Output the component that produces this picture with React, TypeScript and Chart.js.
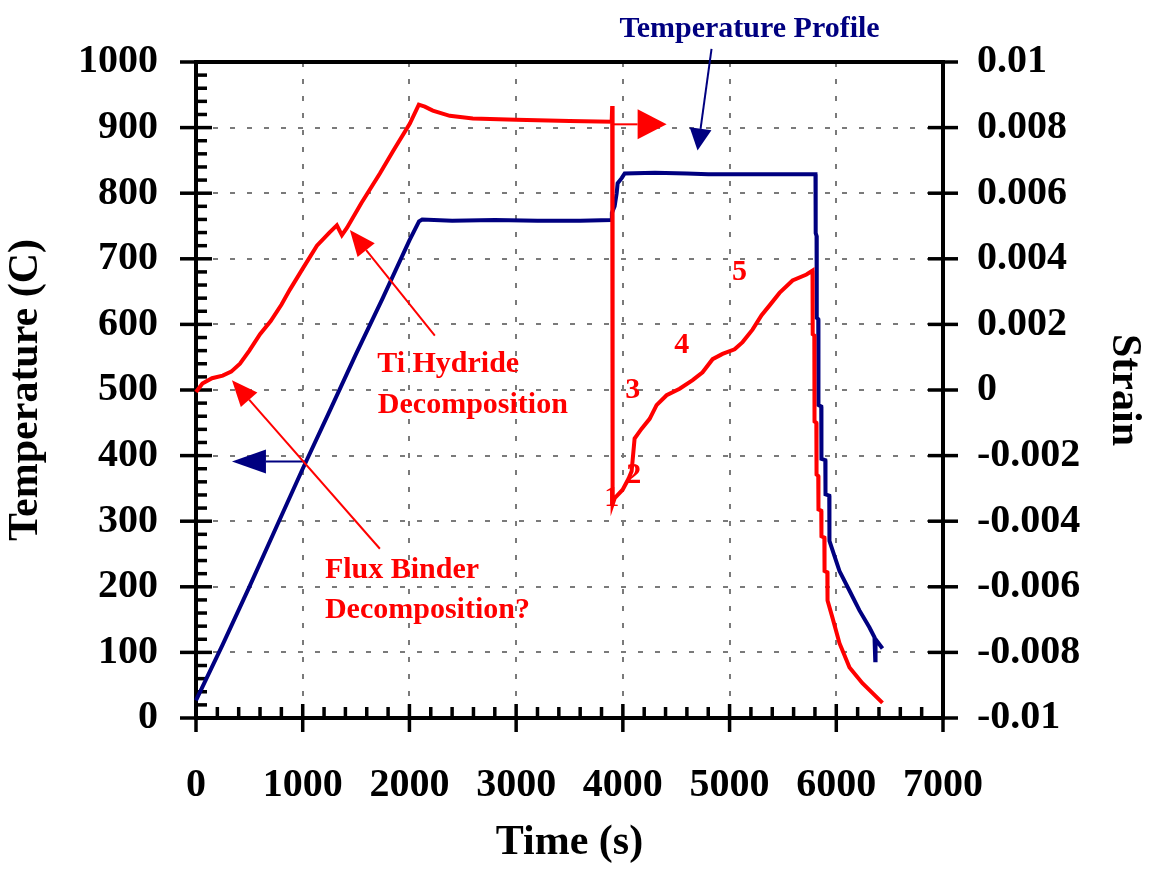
import React, { useEffect, useRef } from "react";
import { Chart, registerables } from "chart.js";

Chart.register(...registerables);

const FONT = "'Liberation Serif', 'Times New Roman', serif";
const RED = "#ff0000";
const NAVY = "#000080";

// Temperature profile (left axis, °C)
const tempTime = [
  0, 250, 500, 750, 1000, 1250, 1500, 1750, 2000, 2090, 2120, 2400, 2800, 3200, 3600, 3895,
  3897, 3923, 3942, 3951, 3989, 4017, 4300, 4600, 4800, 5200, 5600, 5805,
  5807, 5815, 5817, 5831, 5833, 5859, 5861, 5897, 5899, 5934, 5936, 6030, 6124, 6217, 6311,
  6358, 6365, 6368, 6433,
];
const tempValue = [
  27, 112, 200, 290, 380, 467, 555, 640, 728, 757, 760, 758, 759, 758, 758, 759,
  770, 780, 800, 815, 823, 830, 831, 830, 829, 829, 829, 829,
  739, 735, 610, 608, 477, 475, 395, 393, 341, 339, 270, 224, 194, 164, 138,
  123, 88, 120, 106,
];

// Strain (right axis)
const strainTime = [
  0, 60, 150, 250, 330, 412, 500, 600, 700, 800, 880, 1000, 1133, 1250, 1320, 1367, 1414,
  1550, 1723, 1850, 2004, 2088, 2144, 2219, 2378, 2594, 3000, 3500, 3895, 3900, 3904,
  3923, 3998, 4054, 4082, 4110, 4176, 4251, 4316, 4410, 4532, 4654, 4747, 4841, 4934,
  5047, 5122, 5215, 5300, 5375, 5468, 5590, 5721, 5777,
  5779, 5794, 5796, 5813, 5815, 5831, 5833, 5859, 5861, 5888, 5890, 5916, 5918, 5964,
  6030, 6124, 6245, 6433,
];
const strainValue = [
  -0.00006, 0.0002, 0.00036, 0.00044, 0.00056, 0.0008, 0.0012, 0.0017, 0.0021, 0.0026,
  0.00306, 0.0037, 0.0044, 0.0048, 0.00502, 0.00472, 0.00494,
  0.0057, 0.0066, 0.0073, 0.00812, 0.0087, 0.00864, 0.00852, 0.00836, 0.00828, 0.00824,
  0.0082, 0.00818, 0.00866, -0.00348,
  -0.0033, -0.00304, -0.0027, -0.00248, -0.00148, -0.00118, -0.00088, -0.00046, -0.00016,
  0.00004, 0.0003, 0.00054, 0.00094, 0.0011,
  0.00124, 0.00146, 0.00184, 0.00228, 0.00258, 0.00296, 0.00334, 0.00352, 0.00364,
  0.0017, 0.00166, -0.00096, -0.001, -0.00258, -0.00262, -0.00364, -0.00368, -0.00446,
  -0.0045, -0.00552, -0.00556, -0.00642, -0.00694,
  -0.00772, -0.00846, -0.00894, -0.00954,
];

// Annotation texts, placed in (time, temperature) data units
const noteTexts = [
  { text: "Temperature Profile", t: 5187, v: 1038, color: NAVY, size: 30, align: "center" },
  { text: "Ti Hydride", t: 1698, v: 527, color: RED, size: 30, align: "left" },
  { text: "Decomposition", t: 1704, v: 465, color: RED, size: 30, align: "left" },
  { text: "Flux Binder", t: 1208, v: 214, color: RED, size: 30, align: "left" },
  { text: "Decomposition?", t: 1208, v: 152, color: RED, size: 30, align: "left" },
  { text: "1", t: 3895, v: 323, color: RED, size: 30, align: "center" },
  { text: "2", t: 4101, v: 358, color: RED, size: 30, align: "center" },
  { text: "3", t: 4092, v: 488, color: RED, size: 30, align: "center" },
  { text: "4", t: 4551, v: 556, color: RED, size: 30, align: "center" },
  { text: "5", t: 5094, v: 668, color: RED, size: 30, align: "center" },
];

// Annotation arrows: tail (t1,v1) -> tip (t2,v2)
const noteArrows = [
  { t1: 4831, v1: 1020, t2: 4700, v2: 865, color: NAVY, head: 22, half: 11, width: 2 },
  { t1: 3904, v1: 905, t2: 4410, v2: 905, color: RED, head: 29, half: 15, width: 2 },
  { t1: 1020, v1: 391, t2: 337, v2: 391, color: NAVY, head: 34, half: 12, width: 2 },
  { t1: 2238, v1: 583, t2: 1442, v2: 744, color: RED, head: 26, half: 11, width: 2 },
  { t1: 1723, v1: 258, t2: 337, v2: 515, color: RED, head: 26, half: 11, width: 2 },
];

function minorValues(ticks: number[], parts: number) {
  const out: number[] = [];
  for (let i = 0; i < ticks.length - 1; i++) {
    const a = ticks[i];
    const b = ticks[i + 1];
    for (let k = 1; k < parts; k++) out.push(a + ((b - a) * k) / parts);
  }
  return out;
}

const framePlugin = {
  id: "frame",
  beforeDatasetsDraw(chart: any) {
    const { ctx, chartArea: a, scales } = chart;
    const x = scales.x;
    const y = scales.y;
    const y2 = scales.y2;
    const seg = (x1: number, y1: number, x2: number, y2p: number) => {
      ctx.beginPath();
      ctx.moveTo(x1, y1);
      ctx.lineTo(x2, y2p);
      ctx.stroke();
    };
    ctx.save();
    ctx.strokeStyle = "#000";
    ctx.lineCap = "butt";
    ctx.lineWidth = 4;
    seg(a.left, a.top - 2, a.left, a.bottom + 2);
    seg(a.right, a.top - 2, a.right, a.bottom + 2);
    seg(a.left - 2, a.top, a.right + 2, a.top);
    seg(a.left - 2, a.bottom, a.right + 2, a.bottom);

    ctx.lineWidth = 3.5;
    const xt = x.ticks.map((t: any) => t.value);
    xt.forEach((v: number) => {
      const px = x.getPixelForValue(v);
      seg(px, a.bottom - 14, px, a.bottom + 14);
    });
    minorValues(xt, 5).forEach((v) => {
      const px = x.getPixelForValue(v);
      seg(px, a.bottom - 11, px, a.bottom);
    });
    const yt = y.ticks.map((t: any) => t.value);
    yt.forEach((v: number) => {
      const py = y.getPixelForValue(v);
      seg(a.left - 16, py, a.left + 16, py);
    });
    minorValues(yt, 5).forEach((v) => {
      const py = y.getPixelForValue(v);
      seg(a.left, py, a.left + 11, py);
    });
    y2.ticks.forEach((t: any) => {
      const py = y2.getPixelForValue(t.value);
      seg(a.right - 15, py, a.right + 15, py);
    });
    ctx.restore();
  },
  afterDatasetsDraw(chart: any) {
    const { ctx, scales } = chart;
    const x = scales.x;
    const y = scales.y;
    ctx.save();
    noteArrows.forEach((ar) => {
      const x1 = x.getPixelForValue(ar.t1);
      const y1 = y.getPixelForValue(ar.v1);
      const x2 = x.getPixelForValue(ar.t2);
      const y2p = y.getPixelForValue(ar.v2);
      const ang = Math.atan2(y2p - y1, x2 - x1);
      const bx = x2 - Math.cos(ang) * ar.head;
      const by = y2p - Math.sin(ang) * ar.head;
      ctx.strokeStyle = ar.color;
      ctx.fillStyle = ar.color;
      ctx.lineWidth = ar.width;
      ctx.beginPath();
      ctx.moveTo(x1, y1);
      ctx.lineTo(bx, by);
      ctx.stroke();
      const nx = -Math.sin(ang) * ar.half;
      const ny = Math.cos(ang) * ar.half;
      ctx.beginPath();
      ctx.moveTo(x2, y2p);
      ctx.lineTo(bx + nx, by + ny);
      ctx.lineTo(bx - nx, by - ny);
      ctx.closePath();
      ctx.fill();
    });
    noteTexts.forEach((n) => {
      ctx.font = `bold ${n.size}px ${FONT}`;
      ctx.fillStyle = n.color;
      ctx.textAlign = n.align as CanvasTextAlign;
      ctx.textBaseline = "alphabetic";
      ctx.fillText(n.text, x.getPixelForValue(n.t), y.getPixelForValue(n.v));
    });
    ctx.restore();
  },
};

export default function App() {
  const ref = useRef<HTMLCanvasElement | null>(null);
  useEffect(() => {
    if (!ref.current) return;
    const tickFont = { family: FONT, size: 40, weight: "bold" as const };
    const titleFont = { family: FONT, size: 42, weight: "bold" as const };
    const chart = new Chart(ref.current, {
      type: "scatter",
      data: {
        datasets: [
          {
            label: "Strain",
            data: strainTime.map((t, i) => ({ x: t, y: strainValue[i] })),
            yAxisID: "y2",
            showLine: true,
            borderColor: RED,
            backgroundColor: RED,
            borderWidth: 4,
            pointRadius: 0,
            tension: 0,
            clip: false,
          },
          {
            label: "Temperature",
            data: tempTime.map((t, i) => ({ x: t, y: tempValue[i] })),
            yAxisID: "y",
            showLine: true,
            borderColor: NAVY,
            backgroundColor: NAVY,
            borderWidth: 4,
            pointRadius: 0,
            tension: 0,
            clip: false,
          },
        ],
      },
      options: {
        responsive: false,
        animation: false,
        layout: { padding: { top: 58, left: 0, right: 0, bottom: 0 } },
        plugins: { legend: { display: false }, tooltip: { enabled: false } },
        scales: {
          x: {
            type: "linear",
            min: 0,
            max: 7000,
            afterFit: (s: any) => {
              s.height = 172;
            },
            ticks: {
              stepSize: 1000,
              autoSkip: false,
              maxRotation: 0,
              padding: 44,
              color: "#000",
              font: tickFont,
              callback: (v: any) => String(v),
            },
            grid: { color: "#7a7a7a", lineWidth: 2, drawTicks: false },
            border: { display: false, dash: [5, 12] },
            title: {
              display: true,
              text: "Time (s)",
              color: "#000",
              font: titleFont,
              padding: { top: 0, bottom: 22 },
            },
          },
          y: {
            type: "linear",
            position: "left",
            min: 0,
            max: 1000,
            afterFit: (s: any) => {
              s.width = 196;
            },
            ticks: {
              stepSize: 100,
              padding: 38,
              color: "#000",
              font: tickFont,
              callback: (v: any) => String(v),
            },
            grid: { color: "#7a7a7a", lineWidth: 2, drawTicks: false },
            border: { display: false, dash: [5, 12] },
            title: {
              display: true,
              text: "Temperature (C)",
              color: "#000",
              font: titleFont,
              padding: { top: 1, bottom: 0 },
            },
          },
          y2: {
            type: "linear",
            position: "right",
            min: -0.01,
            max: 0.01,
            afterFit: (s: any) => {
              s.width = 211;
            },
            ticks: {
              stepSize: 0.002,
              padding: 34,
              color: "#000",
              font: tickFont,
              callback: (v: any) => String(Number(Number(v).toFixed(4))),
            },
            grid: { display: false, drawTicks: false },
            border: { display: false },
            title: {
              display: true,
              text: "Strain",
              color: "#000",
              font: titleFont,
              padding: { top: 5, bottom: 0 },
            },
          },
        },
      },
      plugins: [framePlugin],
    });
    return () => chart.destroy();
  }, []);
  return (
    <div style={{ position: "absolute", left: 0, top: 0, width: 1154, height: 890, background: "#fff" }}>
      <canvas ref={ref} width={1154} height={890} />
    </div>
  );
}
